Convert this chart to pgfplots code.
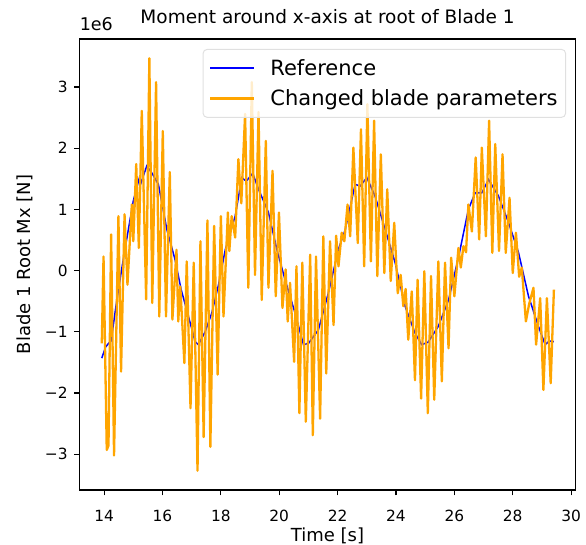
\documentclass[border=0pt]{standalone}
\usepackage{pgfplots}
\pgfplotsset{compat=1.18}
\usepackage{fontspec}
\setmainfont{DejaVu Sans}
\definecolor{mplorange}{HTML}{FFA500}
\definecolor{mplblue}{HTML}{0000FF}
\begin{document}
\begin{tikzpicture}
\begin{axis}[
  scale only axis,
  width=495.9pt, height=451pt,
  at={(0pt,0pt)}, anchor=south west,
  xmin=13.16, xmax=30.15,
  ymin=-3.585, ymax=3.785,
  tick pos=left,
  tick align=outside,
  major tick length=5.4pt,
  every tick/.style={black, line width=1.2pt},
  axis line style={black, line width=1.2pt},
  xtick={14,16,18,20,22,24,26,28,30},
  xticklabels={14,16,18,20,22,24,26,28,30},
  ytick={-3,-2,-1,0,1,2,3},
  yticklabels={−3,−2,−1,0,1,2,3},
  tick label style={font=\fontsize{15.4}{18}\selectfont},
  xticklabel style={yshift=-11pt},
  yticklabel style={xshift=-3pt},
  xlabel={Time [s]},
  ylabel={Blade 1 Root Mx [N]},
  label style={font=\fontsize{18}{21}\selectfont},
  xlabel style={at={(axis description cs:0.5,0)}, anchor=center, yshift=-46pt},
  ylabel style={at={(axis description cs:0,0.5)}, anchor=center, yshift=55pt},
  title={Moment around x-axis at root of Blade 1},
  title style={at={(axis description cs:0.5,1)}, anchor=base, yshift=9pt, font=\fontsize{18.5}{22}\selectfont},
  legend style={at={(0.981,0.978)}, anchor=north east, draw=black!12, line width=1pt,
    rounded corners=4pt, fill=white, fill opacity=0.8, text opacity=1,
    font=\fontsize{21}{25}\selectfont, inner xsep=6pt, inner ysep=8pt,
    row sep=9pt, cells={anchor=west},
    /tikz/every odd column/.append style={column sep=13pt}},
  legend image code/.code={\draw[#1] (0pt,0pt) -- (44pt,0pt);},
  after end axis/.code={
    \node[anchor=base west, font=\fontsize{17.5}{21}\selectfont, inner sep=0pt] at (axis description cs:0,1) [yshift=8pt] {1e6};
  },
]
\addplot[mplblue, line width=1.5pt] coordinates {
(13.92,-1.43) (14.05,-1.25) (14.15,-1.19) (14.24,-1.15) (14.40,-0.60) (14.60,0.02)
(14.83,0.67) (15.00,1.14) (15.21,1.52) (15.27,1.44) (15.46,1.71) (15.63,1.60)
(15.86,1.41) (16.15,0.67) (16.43,0.18) (16.64,-0.31) (16.89,-0.75) (17.12,-1.16)
(17.23,-1.21) (17.46,-1.00) (17.69,-0.69) (17.92,-0.23) (18.15,0.34) (18.49,0.89)
(18.72,1.52) (18.87,1.46) (19.09,1.59) (19.29,1.33) (19.63,0.95) (19.92,0.34)
(20.20,-0.15) (20.54,-0.69) (20.83,-1.21) (21.00,-1.19) (21.34,-0.97) (21.68,-0.37)
(22.03,0.35) (22.26,0.67) (22.60,1.41) (22.77,1.38) (23.00,1.52) (23.28,1.22)
(23.63,0.67) (23.97,0.13) (24.31,-0.58) (24.65,-1.02) (24.88,-1.21) (25.10,-1.17)
(25.45,-0.91) (25.80,-0.48) (26.16,0.26) (26.48,1.00) (26.71,1.27) (26.94,1.27)
(27.17,1.49) (27.51,1.22) (27.86,0.78) (28.20,0.29) (28.54,-0.42) (28.88,-0.91)
(29.11,-1.21) (29.25,-1.15) (29.41,-1.16)
};
\addlegendentry{Reference}
\addplot[mplorange, line width=2.3pt, line join=round] coordinates {
(13.92,-1.19) (13.98,0.23) (14.09,-2.93) (14.15,-2.86) (14.24,0.59) (14.34,-3.02)
(14.49,0.89) (14.58,-1.65) (14.70,0.92) (14.80,-0.23) (14.95,1.08) (15.00,0.48)
(15.10,1.74) (15.19,0.37) (15.29,2.61) (15.44,-0.47) (15.55,3.47) (15.65,-0.53)
(15.78,3.08) (15.89,-0.75) (16.01,2.28) (16.12,-0.75) (16.25,1.61) (16.34,-0.80)
(16.48,0.34) (16.54,-0.83) (16.61,-0.26) (16.75,-1.51) (16.83,0.15) (16.96,-2.25)
(17.07,0.13) (17.20,-3.27) (17.30,0.48) (17.41,-2.72) (17.54,0.82) (17.64,-2.88)
(17.77,0.73) (17.89,-1.70) (18.00,0.89) (18.09,-0.75) (18.24,0.95) (18.29,0.32)
(18.37,0.89) (18.49,0.54) (18.60,1.82) (18.70,1.10) (18.83,2.56) (18.94,-0.28)
(19.06,3.08) (19.17,-0.07) (19.29,2.59) (19.40,-0.48) (19.54,2.12) (19.63,-0.28)
(19.77,1.63) (19.88,-0.42) (19.99,0.95) (20.11,-0.61) (20.22,0.02) (20.29,-0.83)
(20.37,-0.20) (20.51,-1.49) (20.59,0.07) (20.69,-2.33) (20.79,0.13) (20.91,-2.47)
(21.06,0.26) (21.15,-2.69) (21.26,0.23) (21.40,-2.42) (21.51,0.56) (21.61,-1.68)
(21.74,0.48) (21.86,-0.89) (21.95,0.57) (22.03,0.07) (22.14,0.62) (22.23,0.48)
(22.34,1.08) (22.43,0.56) (22.54,2.01) (22.69,0.45) (22.80,2.31) (22.91,0.07)
(23.02,2.72) (23.14,0.15) (23.25,2.45) (23.36,-0.09) (23.48,1.90) (23.60,-0.04)
(23.70,1.33) (23.82,-0.17) (23.94,0.78) (24.06,-0.37) (24.16,-0.07) (24.25,-0.58)
(24.33,-0.30) (24.42,-1.13) (24.54,-0.34) (24.65,-1.79) (24.74,-0.15) (24.86,-2.09)
(24.97,-0.01) (25.09,-2.33) (25.20,-0.09) (25.31,-2.11) (25.45,0.15) (25.57,-1.81)
(25.68,0.13) (25.80,-1.27) (25.89,0.21) (26.00,-0.42) (26.14,0.37) (26.22,0.05)
(26.31,0.40) (26.40,0.30) (26.48,1.08) (26.60,0.64) (26.73,1.85) (26.85,0.51)
(26.94,2.01) (27.08,0.56) (27.19,2.45) (27.30,0.29) (27.40,2.07) (27.53,0.32)
(27.65,1.90) (27.76,0.29) (27.89,1.19) (28.00,-0.04) (28.11,0.62) (28.22,-0.10)
(28.31,0.05) (28.45,-0.83) (28.56,-0.55) (28.71,-0.28) (28.80,-1.21) (28.94,-0.45)
(29.05,-1.95) (29.17,-0.45) (29.30,-1.84) (29.41,-0.31)
};
\addlegendentry{Changed blade parameters}
\end{axis}
\pgfresetboundingbox
\path[use as bounding box] (-79.6pt,-55pt) rectangle (506.4pt,490pt);
\end{tikzpicture}
\end{document}
